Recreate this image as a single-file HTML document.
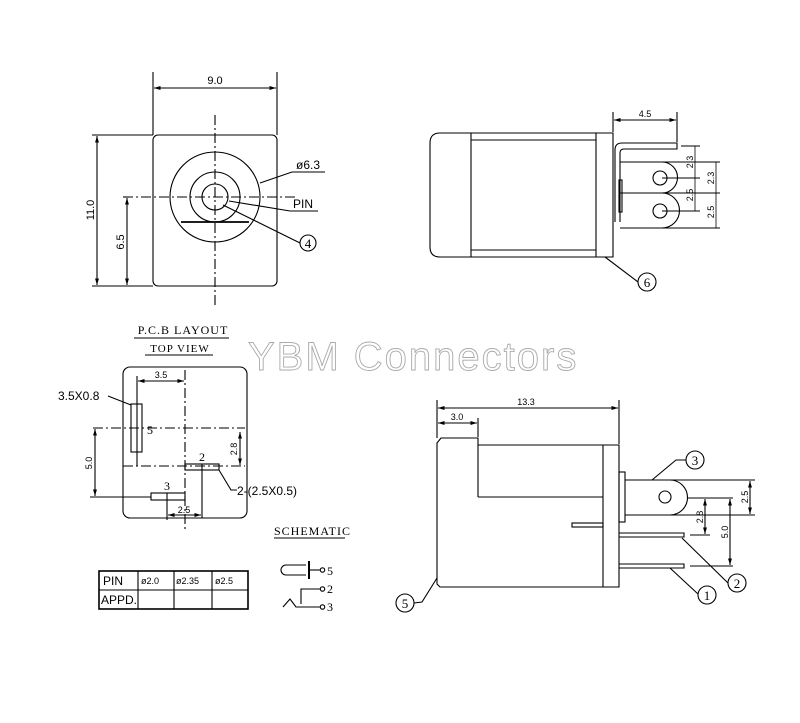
<!DOCTYPE html>
<html><head><meta charset="utf-8"><style>
html,body{margin:0;padding:0;background:#fff}
svg{display:block}
text{font-family:"Liberation Sans",sans-serif;fill:#000}
.s{font-family:"Liberation Serif",serif}
</style></head><body>
<svg width="800" height="723" viewBox="0 0 800 723" xmlns="http://www.w3.org/2000/svg">
<defs>
<marker id="a" viewBox="0 0 10 10" refX="10" refY="5" markerWidth="6" markerHeight="6" orient="auto-start-reverse"><path d="M0,2 L10,5 L0,8 z" fill="#000"/></marker>
</defs>
<g fill="none" stroke="#000" stroke-width="1.1">
<!-- Front view -->
<rect x="153" y="135" width="124" height="151" rx="5"/>
<circle cx="215" cy="197" r="45"/>
<circle cx="215" cy="197" r="25"/>
<circle cx="215" cy="197" r="13"/>
<line x1="181" y1="222" x2="249" y2="222" stroke-width="1.8"/>
<line x1="123" y1="197" x2="295" y2="197" stroke-dasharray="10,3,2,3"/>
<line x1="215" y1="115" x2="215" y2="305" stroke-dasharray="10,3,2,3"/>
<line x1="153" y1="72" x2="153" y2="135"/><line x1="277" y1="72" x2="277" y2="135"/>
<line x1="154" y1="88" x2="276" y2="88" marker-start="url(#a)" marker-end="url(#a)"/>
<line x1="92" y1="135" x2="153" y2="135"/><line x1="92" y1="286" x2="153" y2="286"/>
<line x1="97" y1="136" x2="97" y2="285" marker-start="url(#a)" marker-end="url(#a)"/>
<line x1="127" y1="198" x2="127" y2="285" marker-start="url(#a)" marker-end="url(#a)"/>
<polyline points="260,183 292,172 325,172"/>
<polyline points="229,201 290,211 318,211"/>
<line x1="223" y1="205" x2="300" y2="243"/>
<circle cx="308" cy="243" r="8"/>
<!-- Side view top right -->
<path d="M440,133 H613 V257 H440 Q430,257 430,247 V143 Q430,133 440,133 Z"/>
<line x1="471" y1="133" x2="471" y2="257"/>
<line x1="471" y1="140" x2="596" y2="140"/><line x1="471" y1="250" x2="596" y2="250"/>
<line x1="596" y1="133" x2="596" y2="257"/>
<path d="M615,222 V150 Q615,143 622,143 H677 V149 H624 Q620,149 620,153 V222"/>
<rect x="619" y="180" width="3" height="32"/>
<path d="M620,162 H662 A15.5,15.5 0 0 1 662,193 H620"/>
<path d="M620,193 H662 A17.5,17.5 0 0 1 662,228 H620"/>
<circle cx="660" cy="178" r="7"/><circle cx="660" cy="211" r="7"/>
<line x1="613" y1="112" x2="613" y2="132"/><line x1="677" y1="112" x2="677" y2="142"/>
<line x1="614" y1="120" x2="676" y2="120" marker-start="url(#a)" marker-end="url(#a)"/>
<line x1="681" y1="146" x2="700" y2="146"/>
<line x1="662" y1="162" x2="720" y2="162"/>
<line x1="662" y1="178" x2="700" y2="178"/>
<line x1="662" y1="193" x2="720" y2="193"/>
<line x1="662" y1="211" x2="700" y2="211"/>
<line x1="662" y1="228" x2="720" y2="228"/>
<line x1="695" y1="146" x2="695" y2="211" stroke-width="0.8"/>
<line x1="716" y1="162" x2="716" y2="228" stroke-width="0.8"/>
<line x1="605" y1="257" x2="638" y2="282"/>
<circle cx="647" cy="282" r="9"/>
<!-- PCB layout -->
<rect x="123" y="367" width="124" height="151" rx="7"/>
<line x1="185" y1="370" x2="185" y2="530" stroke-dasharray="10,3,2,3"/>
<line x1="93" y1="428" x2="245" y2="428" stroke-dasharray="10,3,2,3"/>
<line x1="123" y1="466" x2="245" y2="466" stroke-dasharray="10,3,2,3"/>
<line x1="137" y1="376" x2="137" y2="466"/>
<line x1="138" y1="381" x2="184" y2="381" marker-start="url(#a)" marker-end="url(#a)"/>
<rect x="131" y="404" width="11" height="48"/>
<line x1="137" y1="404" x2="137" y2="452" stroke-width="0.6"/>
<polyline points="108,396 131,405"/>
<rect x="185" y="464" width="34" height="6"/>
<line x1="202" y1="464" x2="202" y2="518"/>
<polyline points="219,470 231,490 237,490"/>
<rect x="151" y="493" width="34" height="7"/>
<line x1="167" y1="493" x2="167" y2="520"/>
<line x1="95" y1="429" x2="95" y2="496" marker-start="url(#a)" marker-end="url(#a)"/>
<line x1="90" y1="497" x2="151" y2="497"/>
<line x1="240" y1="432" x2="240" y2="465" marker-start="url(#a)" marker-end="url(#a)"/>
<line x1="168" y1="515" x2="201" y2="515" marker-start="url(#a)" marker-end="url(#a)"/>
<line x1="134" y1="338" x2="229" y2="338"/>
<line x1="145" y1="355" x2="213" y2="355"/>
<line x1="274" y1="538" x2="345" y2="538"/>
<!-- table -->
<rect x="99" y="571" width="149" height="38" stroke-width="1.6"/>
<line x1="99" y1="590" x2="248" y2="590"/>
<line x1="138" y1="571" x2="138" y2="609"/><line x1="174" y1="571" x2="174" y2="609"/><line x1="212" y1="571" x2="212" y2="609"/>
<!-- schematic -->
<path d="M306,565 H286 A5,5 0 0 0 286,575 H306"/>
<line x1="309" y1="561" x2="309" y2="579" stroke-width="2"/>
<line x1="309" y1="570" x2="320" y2="570"/>
<circle cx="322.5" cy="570" r="2.2"/>
<polyline points="301,604 301,589 320,589"/>
<circle cx="322.5" cy="589" r="2.2"/>
<polyline points="283,607 290,599 296,607 320,607"/>
<circle cx="322.5" cy="607" r="2.2"/>
<!-- bottom right side view -->
<path d="M437,584 V443 L441,438 H478 V445 H619 V587 H440 Z"/>
<line x1="478" y1="445" x2="478" y2="497"/>
<line x1="478" y1="497" x2="603" y2="497"/>
<line x1="603" y1="445" x2="603" y2="587"/>
<rect x="572" y="523" width="31" height="4"/>
<rect x="619" y="472" width="6" height="50"/>
<path d="M625,480 H670 A17.5,17.5 0 0 1 670,515 H625"/>
<circle cx="665" cy="497" r="6"/>
<line x1="670" y1="480" x2="755" y2="480"/><line x1="670" y1="515" x2="755" y2="515"/>
<line x1="688" y1="498" x2="733" y2="498"/>
<path d="M619,533 H684 V537 H619"/>
<path d="M619,564 H684 V568 H619"/>
<line x1="690" y1="535" x2="710" y2="535"/><line x1="690" y1="566" x2="733" y2="566"/>
<line x1="750" y1="481" x2="750" y2="514" marker-start="url(#a)" marker-end="url(#a)"/>
<line x1="705" y1="499" x2="705" y2="534" marker-start="url(#a)" marker-end="url(#a)"/>
<line x1="730" y1="499" x2="730" y2="565" marker-start="url(#a)" marker-end="url(#a)"/>
<line x1="437" y1="400" x2="437" y2="438"/><line x1="619" y1="400" x2="619" y2="444"/><line x1="478" y1="418" x2="478" y2="437"/>
<line x1="438" y1="408" x2="618" y2="408" marker-start="url(#a)" marker-end="url(#a)"/>
<line x1="438" y1="423" x2="477" y2="423" marker-start="url(#a)" marker-end="url(#a)"/>
<polyline points="652,480 676,460 686,460"/>
<circle cx="695" cy="460" r="9"/>
<line x1="682" y1="538" x2="728" y2="583"/>
<circle cx="737" cy="583" r="9"/>
<line x1="670" y1="568" x2="698" y2="594"/>
<circle cx="707" cy="595" r="9"/>
<polyline points="437,578 422,602 414,603"/>
<circle cx="405" cy="603" r="9"/>
</g>
<!-- texts -->
<text x="215" y="84" font-size="11" text-anchor="middle">9.0</text>
<text transform="translate(94,210) rotate(-90)" font-size="11" text-anchor="middle">11.0</text>
<text transform="translate(124,242) rotate(-90)" font-size="11" text-anchor="middle">6.5</text>
<text x="296" y="169" font-size="12">ø6.3</text>
<text x="293" y="208" font-size="12">PIN</text>
<text class="s" x="308" y="248" font-size="13" text-anchor="middle">4</text>
<text x="645" y="117" font-size="9" text-anchor="middle">4.5</text>
<text transform="translate(693,162) rotate(-90)" font-size="9" text-anchor="middle">2.3</text>
<text transform="translate(693,195) rotate(-90)" font-size="9" text-anchor="middle">2.5</text>
<text transform="translate(714,178) rotate(-90)" font-size="9" text-anchor="middle">2.3</text>
<text transform="translate(714,212) rotate(-90)" font-size="9" text-anchor="middle">2.5</text>
<text class="s" x="647" y="287" font-size="13" text-anchor="middle">6</text>
<text class="s" x="183" y="334" font-size="12" text-anchor="middle" letter-spacing="1">P.C.B LAYOUT</text>
<text class="s" x="180" y="352" font-size="11" text-anchor="middle" letter-spacing="1">TOP VIEW</text>
<text x="248" y="370" font-size="40" fill="#fff" stroke="#aaa" stroke-width="0.9" letter-spacing="2" style="fill:#fff">YBM Connectors</text>
<text x="161" y="378" font-size="9" text-anchor="middle">3.5</text>
<text x="58" y="400" font-size="12">3.5X0.8</text>
<text class="s" x="147" y="434" font-size="12">5</text>
<text class="s" x="202" y="461" font-size="12" text-anchor="middle">2</text>
<text class="s" x="167" y="490" font-size="12" text-anchor="middle">3</text>
<text x="237" y="495" font-size="12">2-(2.5X0.5)</text>
<text transform="translate(92,463) rotate(-90)" font-size="9" text-anchor="middle">5.0</text>
<text transform="translate(237,449) rotate(-90)" font-size="9" text-anchor="middle">2.8</text>
<text x="184" y="513" font-size="9" text-anchor="middle">2.5</text>
<text class="s" x="274" y="535" font-size="12" letter-spacing="1">SCHEMATIC</text>
<text x="103" y="585" font-size="12">PIN</text>
<text x="141" y="584" font-size="9">ø2.0</text>
<text x="176" y="584" font-size="9">ø2.35</text>
<text x="215" y="584" font-size="9">ø2.5</text>
<text x="101" y="604" font-size="12">APPD.</text>
<text class="s" x="327" y="575" font-size="12">5</text>
<text class="s" x="327" y="593" font-size="12">2</text>
<text class="s" x="327" y="611" font-size="12">3</text>
<text x="526" y="405" font-size="9" text-anchor="middle">13.3</text>
<text x="457" y="420" font-size="9" text-anchor="middle">3.0</text>
<text transform="translate(748,497) rotate(-90)" font-size="9" text-anchor="middle">2.5</text>
<text transform="translate(703,517) rotate(-90)" font-size="9" text-anchor="middle">2.8</text>
<text transform="translate(728,532) rotate(-90)" font-size="9" text-anchor="middle">5.0</text>
<text class="s" x="695" y="465" font-size="13" text-anchor="middle">3</text>
<text class="s" x="737" y="588" font-size="13" text-anchor="middle">2</text>
<text class="s" x="707" y="600" font-size="13" text-anchor="middle">1</text>
<text class="s" x="405" y="608" font-size="13" text-anchor="middle">5</text>
</svg>
</body></html>
